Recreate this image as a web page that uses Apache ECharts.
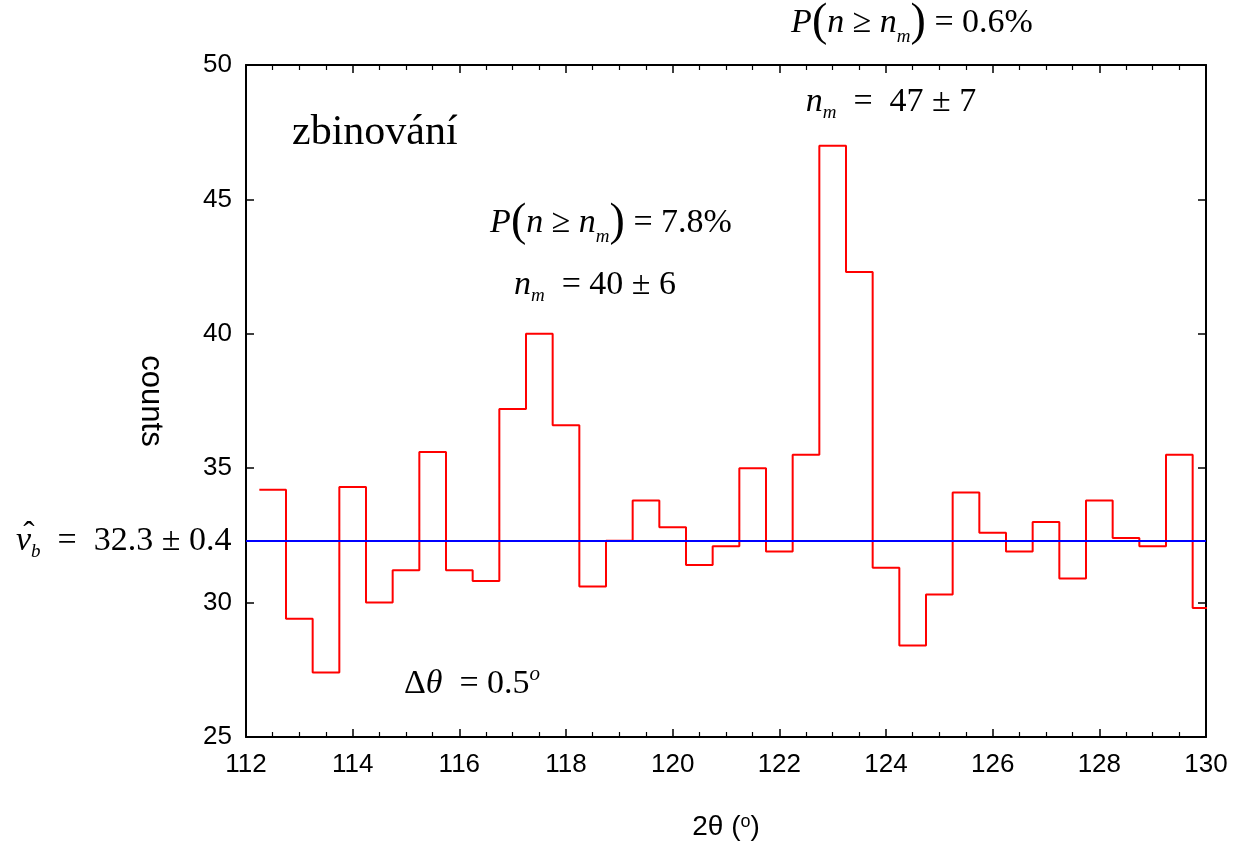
<!DOCTYPE html>
<html>
<head>
<meta charset="utf-8">
<title>zbinování</title>
<script src="https://cdn.jsdelivr.net/npm/echarts@6/dist/echarts.min.js"></script>
<style>
  html, body { margin: 0; padding: 0; background: #fff; }
  #chart { width: 1247px; height: 849px; }
</style>
</head>
<body>
<div id="chart"></div>
<script>
// Histogram bins: centre of each 0.5° bin in 2θ, and the counts in it
const binWidth = 0.5;
const binCenters = [
  112.5, 113.0, 113.5, 114.0, 114.5, 115.0, 115.5, 116.0, 116.5,
  117.0, 117.5, 118.0, 118.5, 119.0, 119.5, 120.0, 120.5, 121.0,
  121.5, 122.0, 122.5, 123.0, 123.5, 124.0, 124.5, 125.0, 125.5,
  126.0, 126.5, 127.0, 127.5, 128.0, 128.5, 129.0, 129.5, 130.0
];
const counts = [
  34.2, 29.4, 27.4, 34.3, 30.0, 31.2, 35.6, 31.2, 30.8,
  37.2, 40.0, 36.6, 30.6, 32.3, 33.8, 32.8, 31.4, 32.1,
  35.0, 31.9, 35.5, 47.0, 42.3, 31.3, 28.4, 30.3, 34.1,
  32.6, 31.9, 33.0, 30.9, 33.8, 32.4, 32.1, 35.5, 29.8
];
// Estimated background level
const background = 32.3;

// Axis ranges and tick spacing
const xRange = [112, 130], xStep = 2;
const yRange = [25, 50], yStep = 5;

// Step outline: each bin starts at its left edge; one extra point closes the last bin
const stepData = binCenters.map((c, i) => [c - binWidth / 2, counts[i]]);
stepData.push([binCenters[binCenters.length - 1] + binWidth / 2, counts[counts.length - 1]]);

const serif = '"Liberation Serif", "Times New Roman", serif';
const sans = '"Liberation Sans", Arial, sans-serif';

const mathRich = {
  i:   { fontFamily: serif, fontStyle: 'italic', fontSize: 34, lineHeight: 40, color: '#000', verticalAlign: 'middle' },
  r:   { fontFamily: serif, fontSize: 34, lineHeight: 40, color: '#000', verticalAlign: 'middle' },
  par: { fontFamily: serif, fontSize: 46, lineHeight: 46, color: '#000', verticalAlign: 'middle' },
  sub: { fontFamily: serif, fontStyle: 'italic', fontSize: 19, lineHeight: 18, color: '#000', verticalAlign: 'bottom' },
  sup: { fontFamily: serif, fontStyle: 'italic', fontSize: 21, lineHeight: 21, color: '#000', verticalAlign: 'top' }
};

function mathText(x, y, text, align) {
  return {
    type: 'text', x: x, y: y, z: 10,
    style: { text: text, rich: mathRich, align: align || 'center', verticalAlign: 'middle' }
  };
}

const frameAxis = {
  axisLine: { show: true, onZero: false, lineStyle: { color: '#000', width: 2 } },
  axisTick: { show: true, inside: true, length: 8, lineStyle: { color: '#000', width: 1.5 } },
  splitLine: { show: false }
};

const chart = echarts.init(document.getElementById('chart'), null, { renderer: 'canvas' });

chart.setOption({
  backgroundColor: '#fff',
  animation: false,
  grid: { left: 246, right: 41, top: 65, bottom: 112, containLabel: false },
  xAxis: [
    Object.assign({}, frameAxis, {
      type: 'value', position: 'bottom',
      min: xRange[0], max: xRange[1], interval: xStep,
      minorTick: { show: true, splitNumber: 4, length: 5, lineStyle: { color: '#000', width: 1.2 } },
      axisLabel: { color: '#000', fontFamily: sans, fontSize: 26, margin: 15 },
      name: '2θ ({sup|o})',
      nameLocation: 'middle', nameGap: 76,
      nameTextStyle: {
        color: '#000', fontFamily: sans, fontSize: 28,
        rich: { sup: { fontFamily: sans, fontSize: 18, lineHeight: 18, verticalAlign: 'top', color: '#000' } }
      }
    }),
    Object.assign({}, frameAxis, {
      type: 'value', position: 'top',
      min: xRange[0], max: xRange[1], interval: xStep,
      minorTick: { show: true, splitNumber: 4, length: 5, lineStyle: { color: '#000', width: 1.2 } },
      axisLabel: { show: false }
    })
  ],
  yAxis: [
    Object.assign({}, frameAxis, {
      type: 'value', position: 'left',
      min: yRange[0], max: yRange[1], interval: yStep,
      axisLabel: { color: '#000', fontFamily: sans, fontSize: 26, margin: 14 },
      name: 'counts', nameLocation: 'middle', nameGap: 80, nameRotate: -90,
      nameTextStyle: { color: '#000', fontFamily: sans, fontSize: 31 }
    }),
    Object.assign({}, frameAxis, {
      type: 'value', position: 'right',
      min: yRange[0], max: yRange[1], interval: yStep,
      axisLabel: { show: false }
    })
  ],
  series: [
    {
      type: 'line',
      name: 'counts',
      step: 'end',
      data: stepData,
      showSymbol: false,
      symbol: 'none',
      lineStyle: { color: '#ff0000', width: 2 },
      clip: true,
      z: 3,
      markLine: {
        silent: true,
        symbol: 'none',
        label: { show: false },
        lineStyle: { color: '#0000ff', width: 2, type: 'solid' },
        data: [{ yAxis: background }],
        z: 4
      }
    }
  ],
  graphic: [
    {
      type: 'text', x: 292, y: 133, z: 10,
      style: { text: 'zbinování', fontFamily: serif, fontSize: 42, fill: '#000', align: 'left', verticalAlign: 'middle' }
    },
    mathText(912, 23, '{i|P}{par|(}{i|n }{r|≥ }{i|n}{sub|m}{par|)}{r| = 0.6%}'),
    mathText(891, 102, '{i|n}{sub|m}{r|  =  47 ± 7}'),
    mathText(611, 223, '{i|P}{par|(}{i|n }{r|≥ }{i|n}{sub|m}{par|)}{r| = 7.8%}'),
    mathText(595, 285, '{i|n}{sub|m}{r|  = 40 ± 6}'),
    mathText(472, 684, '{r|Δ}{i|θ}{r|  = 0.5}{sup|o}'),
    // background estimate: ν with a hat, subscript b
    mathText(16, 541, '{i|ν}{sub|b}{r|  =  32.3 ± 0.4}', 'left'),
    {
      type: 'text', x: 29, y: 536, z: 11,
      style: { text: 'ˆ', fontFamily: serif, fontSize: 34, fill: '#000', align: 'center', verticalAlign: 'middle' }
    }
  ]
});
</script>
</body>
</html>
